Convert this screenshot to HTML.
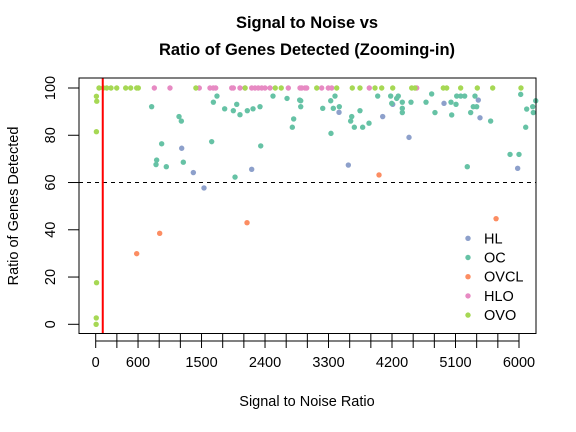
<!DOCTYPE html>
<html><head><meta charset="utf-8"><style>
body{margin:0;background:#fff}
svg{display:block;font-family:"Liberation Sans",Arial,sans-serif}
</style></head><body>
<svg id="chart" width="576" height="432" viewBox="0 0 576 432">
<text x="307" y="28" text-anchor="middle" font-size="16.5" font-weight="bold">Signal to Noise vs</text>
<text x="307" y="55" text-anchor="middle" font-size="16.5" font-weight="bold">Ratio of Genes Detected (Zooming-in)</text>
<text x="307" y="406" text-anchor="middle" font-size="14.5">Signal to Noise Ratio</text>
<text transform="translate(18,206) rotate(-90)" text-anchor="middle" font-size="14.5">Ratio of Genes Detected</text>
<g id="axes"></g>
<g id="marks"></g>
<g id="legend"></g>
<rect x="79" y="78" width="457" height="255.5" fill="none" stroke="#000" stroke-width="1"/>
</svg>
<script>
const seriesNames=["HL","OC","OVCL","HLO","OVO"];
const seriesColors=["#8DA0CB","#66C2A5","#FC8D62","#E78AC3","#A6D854"];
const xTicks=[0,300,600,900,1200,1500,1800,2100,2400,2700,3000,3300,3600,3900,4200,4500,4800,5100,5400,5700,6000];
const xTickLabels=["0","","600","","","1500","","","2400","","","3300","","","4200","","","5100","","","6000"];
const yTicks=[0,20,40,60,80,100];
const threshold=60;
const redLineX=100;
const hlX=[1219,1384,1535,2211,3449,3581,4068,4210,4441,4937,5423,5447,5981];
const hlY=[74.5,64.2,57.7,65.6,89.7,67.4,87.9,93.1,79.1,93.5,94.9,87.4,66.0];
const ocX=[793,935,864,855,1001,1181,1214,1242,1644,1668,1719,1828,1951,1999,2045,1975,2149,2230,2329,2339,2513,2712,2787,2806,2891,2906,2906,3218,3331,3392,3368,3453,3335,3629,3614,3666,3746,3784,3874,3997,4181,4196,4266,4289,4346,4346,4346,4469,4682,4762,4809,5036,5107,5046,5117,5174,5230,5267,5315,5352,5400,5376,5598,5873,6000,6024,6095,6109,6194,6203,6237];
const ocY=[92.1,76.4,69.5,67.6,66.7,87.9,86.0,68.6,77.3,94.0,96.6,91.2,90.4,93.1,88.7,62.3,90.4,91.2,92.1,75.5,96.6,95.6,83.4,86.9,94.9,92.1,94.6,91.4,94.6,96.6,91.4,92.1,80.8,87.9,86.0,83.4,90.4,83.4,85.1,96.6,96.6,93.5,95.6,96.6,94.0,91.4,89.6,94.0,94.0,97.5,89.6,94.0,93.1,88.6,96.6,96.6,96.6,66.7,89.6,92.1,92.1,96.6,86.0,71.9,71.9,97.3,83.4,91.1,92.1,89.6,94.6];
const ovclX=[581,907,2145,4016,5675];
const ovclY=[29.9,38.5,43.0,63.2,44.7];
const hloX=[831,1053,1468,1620,1667,1701,1928,1951,2045,2116,2211,2258,2305,2353,2400,2471,2730,2896,2967,2991,2920,3203,3297,3345,3878,4550];
const hloY=[100,100,100,100,100,100,100,100,100,100,100,100,100,100,100,100,100,100,100,100,100,100,100,100,100,100];
const ovoX=[10,15,10,12,8,6,47,108,156,217,298,425,496,581,604,1420,2118,2545,2630,3133,3416,3637,3746,3959,4054,4210,4479,4526,4927,4975,5173,5409,5627,6028];
const ovoY=[96.5,94.4,81.5,17.6,2.7,0,100,100,100,100,100,100,100,100,100,100,100,100,100,100,100,100,100,100,100,100,100,100,100,100,100,100,100,100];

const NS="http://www.w3.org/2000/svg";
const xs=v=>95.7+v*0.07055;
const ys=v=>324.3-v*2.363;
function mk(tag,attrs,parent){const e=document.createElementNS(NS,tag);for(const k in attrs)e.setAttribute(k,attrs[k]);parent.appendChild(e);return e;}
const axes=document.getElementById('axes');
const marks=document.getElementById('marks');
const legend=document.getElementById('legend');
let xl=mk('line',{x1:xs(xTicks[0]),x2:xs(xTicks[xTicks.length-1]),y1:341,y2:341,stroke:'#000'},axes);


xTicks.forEach((t,i)=>{
  const l=mk('line',{x1:xs(t),x2:xs(t),y1:333.5,y2:348,stroke:'#000'},axes);
  
  
  if(xTickLabels[i]){
    const tx=mk('text',{x:xs(t),y:367,'text-anchor':'middle','font-size':'14.5'},axes);
    tx.textContent=xTickLabels[i];
    
    
  }
});
let yl=mk('line',{x1:79,x2:79,y1:ys(0),y2:ys(100),stroke:'#000'},axes);


yTicks.forEach(t=>{
  const l=mk('line',{x1:68,x2:79,y1:ys(t),y2:ys(t),stroke:'#000'},axes);
  
  
  const tx=mk('text',{transform:`translate(55,${ys(t)}) rotate(-90)`,'text-anchor':'middle','font-size':'14.5'},axes);
  tx.textContent=String(t);
  
  
});
const th=mk('line',{x1:79,x2:536,y1:ys(threshold),y2:ys(threshold),stroke:'#000','stroke-dasharray':'4,4'},marks);


const groups=[[hlX,hlY],[ocX,ocY],[ovclX,ovclY],[hloX,hloY],[ovoX,ovoY]];
groups.forEach((g,si)=>{
  g[0].forEach((xv,i)=>{
    const c=mk('circle',{cx:xs(xv),cy:ys(g[1][i]),r:2.7,fill:seriesColors[si]},marks);
    
    
  });
});
const rl=mk('line',{x1:xs(redLineX),x2:xs(redLineX),y1:78,y2:333.5,stroke:'#FF0000','stroke-width':2},marks);


seriesNames.forEach((n,i)=>{
  const y=238.3+i*19.2;
  const c=mk('circle',{cx:468,cy:y,r:2.7,fill:seriesColors[i]},legend);
  
  
  const t=mk('text',{x:484,y:y+5,'font-size':'14.5'},legend);
  t.textContent=n;
  
  
});
</script>
</body></html>
